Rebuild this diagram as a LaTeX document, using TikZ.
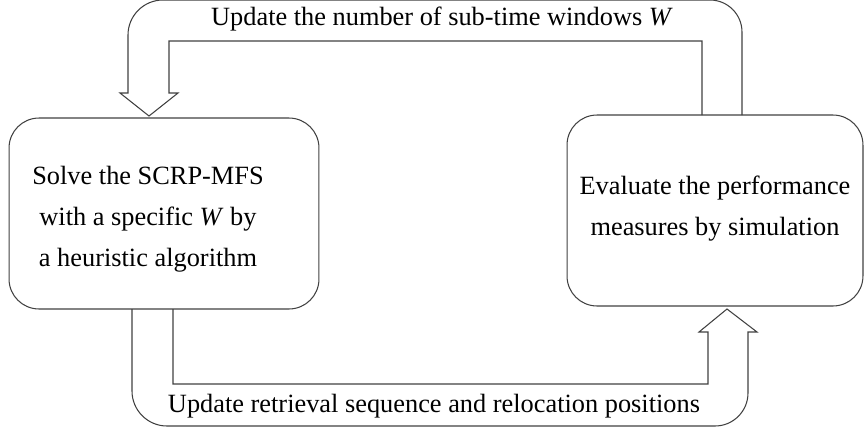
\documentclass[tikz,border=0pt]{standalone}
\usepackage{fontspec}
\setmainfont{Liberation Serif}
\usetikzlibrary{positioning}

\tikzset{
    stage/.style={draw=black!75, line width=0.6pt, rounded corners=0.6cm,
        minimum width=#1, minimum height=3.82cm, inner sep=0pt},
    stagetext/.style={align=center, font=\fontsize{15}{23.3}\selectfont},
    loop/.style={draw=black!75, line width=0.6pt, line join=miter},
    looptext/.style={font=\fontsize{15}{18}\selectfont, inner sep=0pt}
}

\begin{document}
\begin{tikzpicture}[x=0.02cm, y=-0.02cm]
    \useasboundingbox (0,0) rectangle (867,434);
    % the two stages
    \node[stage=6.2cm] (solve) at (164,213.5) {};
    \node[stagetext] (solvetxt) at (148,219) {Solve the SCRP-MFS\\ with a specific \textit{W} by\\ a heuristic algorithm};
    \node[stage=5.92cm, stagetext] (eval) at (715,210.5) {};
    \node[stagetext] (evaltxt) at (715,209) {Evaluate the performance\\ measures by simulation};
    % upper feedback: hollow arrow from eval back to solve
    \draw[loop] (702,115) -- (702,41) -- (169,41) -- (169,93) -- (178,93)
        -- (149,116) -- (120,93) -- (128,93) -- (128,35)
        arc (180:270:35) -- (710,0) arc (270:360:32) -- (742,115);
    \node[looptext, anchor=base] (wlabel) at (442,25) {Update the number of sub-time windows \textit{W}};
    % lower feedback: hollow arrow from solve to eval
    \draw[loop] (173,309) -- (173,384) -- (708,384) -- (708,332) -- (699,332)
        -- (727,309) -- (757,332) -- (748,332) -- (748,393)
        arc (0:90:33) -- (167,426) arc (90:180:35) -- (132,309);
    \node[looptext, anchor=base] (slabel) at (434,412) {Update retrieval sequence and relocation positions};
\end{tikzpicture}
\end{document}
